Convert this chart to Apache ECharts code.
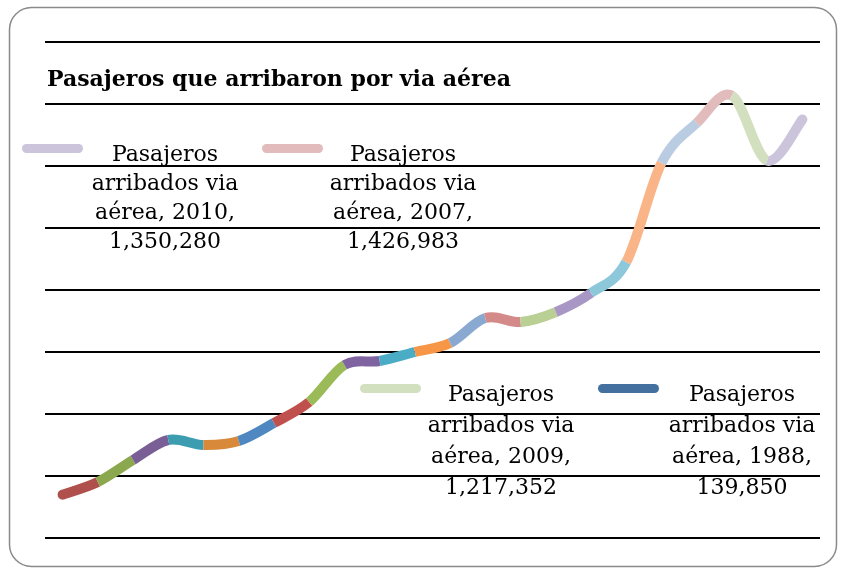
<!DOCTYPE html>
<html>
<head>
<meta charset="utf-8">
<script src="https://cdn.jsdelivr.net/npm/echarts@6/dist/echarts.min.js"></script>
<style>
  html, body { margin: 0; padding: 0; background: #fff; }
  #chart { width: 843px; height: 568px; }
</style>
</head>
<body>
<div id="chart"></div>
<script>
// years on the x axis (2008 is missing in the source sheet)
const years = ['1988', '1989', '1990', '1991', '1992', '1993', '1994', '1995', '1996', '1997', '1998',
  '1999', '2000', '2001', '2002', '2003', '2004', '2005', '2006', '2007', '2009', '2010'];
const passengers = [139850, 180600, 251600, 316100, 300000, 312900, 371000, 438700, 558100, 571000, 600000,
  629000, 709700, 696800, 729000, 790300, 890300, 1209700, 1338700, 1426983, 1217352, 1350280];
// one colour per point, like Excel's "vary colours by point"
const pointColors = ['#43709f', '#b0504c', '#8ba84f', '#7a5e96', '#3d9db0', '#d8893a', '#4f88c0',
  '#c0504d', '#9bbb59', '#8064a2', '#4bacc6', '#f79646', '#8aa9d1', '#d48a88', '#b9cf93', '#a897c4',
  '#8cc8d9', '#f9b587', '#bacce2', '#e2bcbc', '#d3e0c0', '#cbc4db'];
const legendYears = ['2010', '2007', '2009', '1988'];
const yTicks = [0, 200000, 400000, 600000, 800000, 1000000, 1200000, 1400000, 1600000];

const serif = "'DejaVu Serif', 'Liberation Serif', serif";
const LINE_W = 10;

const chart = echarts.init(document.getElementById('chart'));

// Excel style smoothed line: each segment i-1 -> i is a bezier in point i's colour
function renderSegment(params, api) {
  const i = params.dataIndex;
  const n = params.dataInsideLength;
  const pt = (k) => {
    k = Math.max(0, Math.min(n - 1, k));
    return api.coord([api.value(0, k), api.value(1, k)]);
  };
  if (i === 0) return null;
  const p0 = pt(i - 2), p1 = pt(i - 1), p2 = pt(i), p3 = pt(i + 1);
  const color = pointColors[i];
  const children = [{
    type: 'bezierCurve',
    shape: {
      x1: p1[0], y1: p1[1],
      cpx1: p1[0] + (p2[0] - p0[0]) / 6, cpy1: p1[1] + (p2[1] - p0[1]) / 6,
      cpx2: p2[0] - (p3[0] - p1[0]) / 6, cpy2: p2[1] - (p3[1] - p1[1]) / 6,
      x2: p2[0], y2: p2[1],
    },
    style: { stroke: color, lineWidth: LINE_W, fill: null, lineCap: 'butt' },
  }];
  // round caps at both ends of the whole line
  if (i === 1) children.push({ type: 'circle', shape: { cx: p1[0], cy: p1[1], r: LINE_W / 2 }, style: { fill: color } });
  if (i === n - 1) children.push({ type: 'circle', shape: { cx: p2[0], cy: p2[1], r: LINE_W / 2 }, style: { fill: color } });
  return { type: 'group', children: children };
}

// legend entries: swatch + centred wrapped text
const legendPos = [
  { sx: 22, sy: 144, tx: 165, ty: 141, lh: 29 },
  { sx: 262, sy: 144, tx: 403, ty: 141, lh: 29 },
  { sx: 360, sy: 384, tx: 501, ty: 380, lh: 31 },
  { sx: 598, sy: 384, tx: 742, ty: 380, lh: 31 },
];
const legendGraphics = [];
legendYears.forEach((yr, k) => {
  const i = years.indexOf(yr);
  const p = legendPos[k];
  legendGraphics.push({
    type: 'rect',
    shape: { x: p.sx, y: p.sy, width: 61, height: 9, r: 4.5 },
    style: { fill: pointColors[i] },
  });
  legendGraphics.push({
    type: 'text',
    x: p.tx,
    y: p.ty,
    style: {
      text: 'Pasajeros\narribados via\naérea, ' + yr + ',\n' + passengers[i].toLocaleString('en-US'),
      font: '22px ' + serif,
      fill: '#000',
      align: 'center',
      verticalAlign: 'top',
      lineHeight: p.lh,
    },
  });
});

chart.setOption({
  animation: false,
  title: {
    text: 'Pasajeros que arribaron por via aérea',
    left: 42,
    top: 64,
    textStyle: { fontFamily: serif, fontSize: 22, fontWeight: 'bold', color: '#000' },
  },
  grid: { left: 45, right: 23, top: 42, bottom: 30 },
  xAxis: {
    type: 'category',
    data: years,
    boundaryGap: true,
    axisLine: { show: false },
    axisTick: { show: false },
    axisLabel: { show: false },
  },
  yAxis: {
    type: 'value',
    min: yTicks[0],
    max: yTicks[yTicks.length - 1],
    interval: yTicks[1] - yTicks[0],
    axisLine: { show: false },
    axisTick: { show: false },
    axisLabel: { show: false },
    splitLine: { lineStyle: { color: '#000', width: 2 } },
  },
  series: [{
    name: 'Pasajeros arribados via aérea',
    type: 'custom',
    renderItem: renderSegment,
    data: passengers.map((v, i) => [years[i], v]),
    encode: { x: 0, y: 1 },
    clip: false,
  }],
  graphic: [
    {
      type: 'rect',
      shape: { x: 9.5, y: 7.5, width: 827, height: 559, r: 22 },
      style: { fill: 'none', stroke: '#8a8a8a', lineWidth: 1.5 },
      z: -1,
    },
  ].concat(legendGraphics),
});
</script>
</body>
</html>
